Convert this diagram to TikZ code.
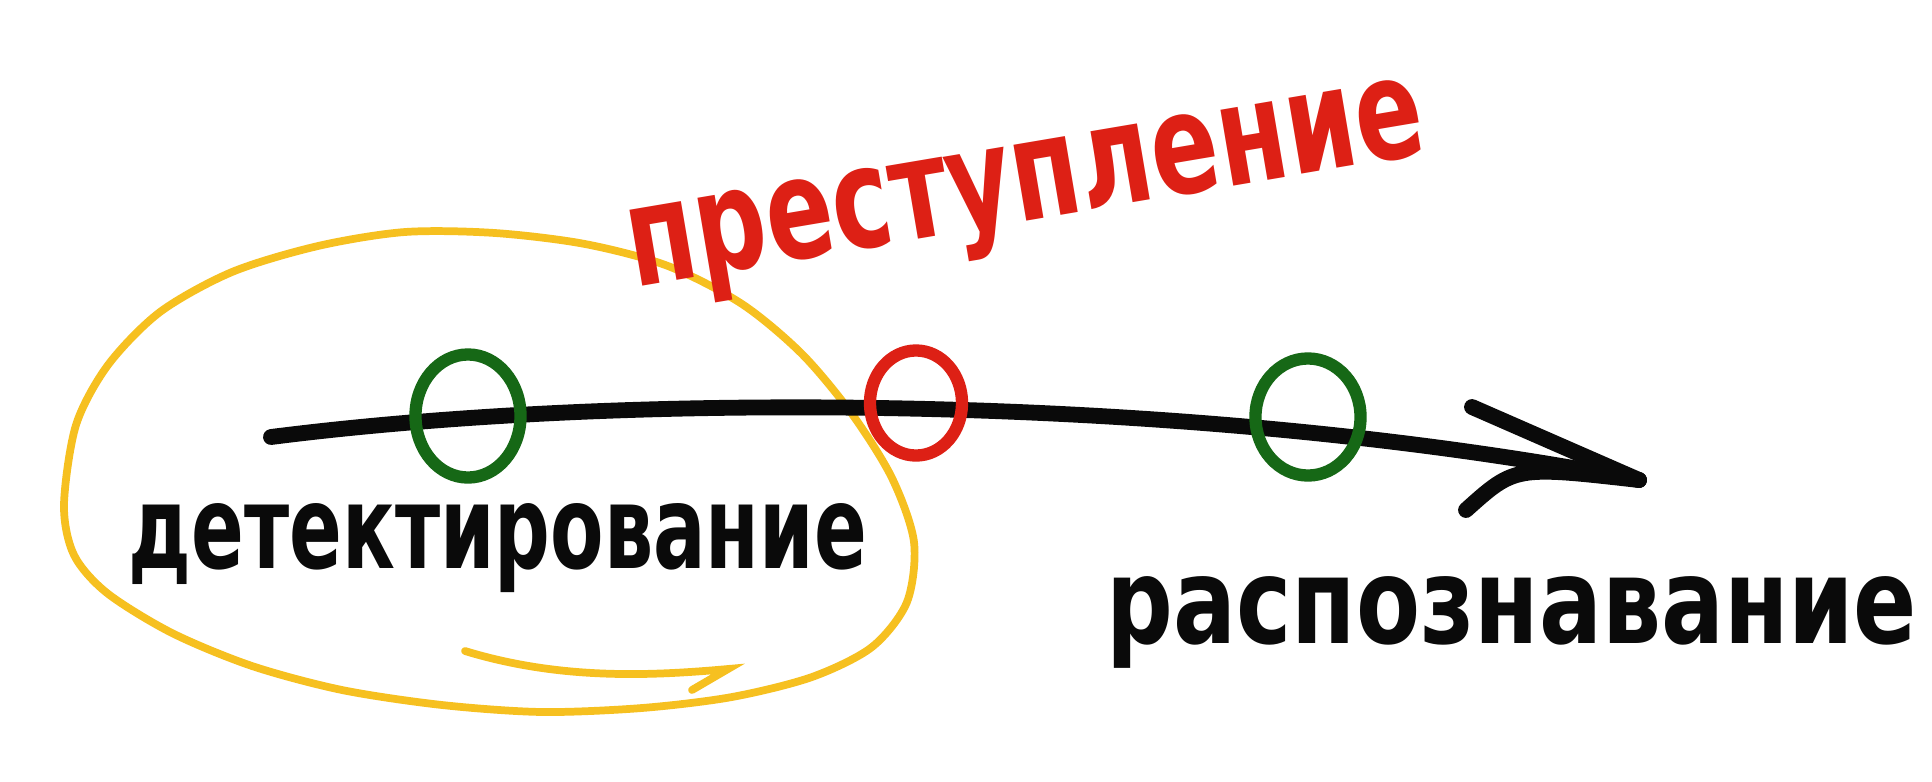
\documentclass[tikz,border=0pt]{standalone}
\usepackage{graphicx}
\usepackage{fontspec}
\setmainfont{DejaVu Sans Condensed}
\usetikzlibrary{shapes.geometric}

\definecolor{sketchred}{RGB}{221,32,21}
\definecolor{sketchgreen}{RGB}{22,104,22}
\definecolor{sketchyellow}{RGB}{246,192,32}
\definecolor{sketchink}{RGB}{10,10,10}

\tikzset{
  ink/.style={draw=sketchink, line width=4.5pt, line cap=round, line join=round},
  ring/.style={ellipse, draw, line width=3.5pt, inner sep=0pt},
  word/.style={anchor=base, text=sketchink, font=\bfseries\fontsize{33}{33}\selectfont},
}

\begin{document}
\begin{tikzpicture}[x=0.01cm, y=-0.01cm]
    % Frame
    \fill[white] (0,0) rectangle (1932,781);
    \useasboundingbox (0,0) rectangle (1932,781);

    % Circled region
    \draw[sketchyellow, line width=2.2pt, line cap=round] plot[smooth cycle] coordinates {
        (64,505) (76,425) (108,365) (160,312) (232,272) (318,246) (405,232)
        (495,233) (585,244) (668,266) (742,304) (802,354) (852,414) (892,478)
        (914,542) (907,602) (872,647) (812,677) (732,697) (642,708) (542,712)
        (442,705) (342,690) (252,666) (172,633) (107,593) (74,555)};
    \draw[sketchyellow, line width=2.2pt, line cap=round] (465,651) .. controls (560,680) and (650,676) .. (728,669) -- (692,690);

    % Axis with points
    \coordinate (start) at (271,437);
    \coordinate (tip) at (1639,480);
    \draw[ink] (start) .. controls (640,390) and (1200,395) .. (tip);
    \coordinate (armup) at (1472,407);
    \coordinate (armdown) at (1466,510);
    \draw[ink] (armup) -- (tip);
    \draw[ink] (armdown) .. controls (1515,466) .. (tip);

    \node[ring, draw=sketchgreen, minimum width=1.05cm, minimum height=1.23cm] (detpt) at (468,416) {};
    \node[ring, draw=sketchred, minimum width=0.92cm, minimum height=1.05cm] (crimept) at (916,403) {};
    \node[ring, draw=sketchgreen, minimum width=1.05cm, minimum height=1.17cm] (recpt) at (1308,417) {};

    % Labels
    \node[word] (detect) at (498,568) {\resizebox{7.38cm}{\height}{детектирование}};
    \node[word, font=\bfseries\fontsize{34}{34}\selectfont] (recog) at (1512,643) {\resizebox{8.1cm}{\height}{распознавание}};
    \node[word, text=sketchred, rotate=9.6, font=\bfseries\fontsize{40}{40}\selectfont] (crime) at (1032,220) {\resizebox{8.05cm}{\height}{преступление}};

\end{tikzpicture}
\end{document}
